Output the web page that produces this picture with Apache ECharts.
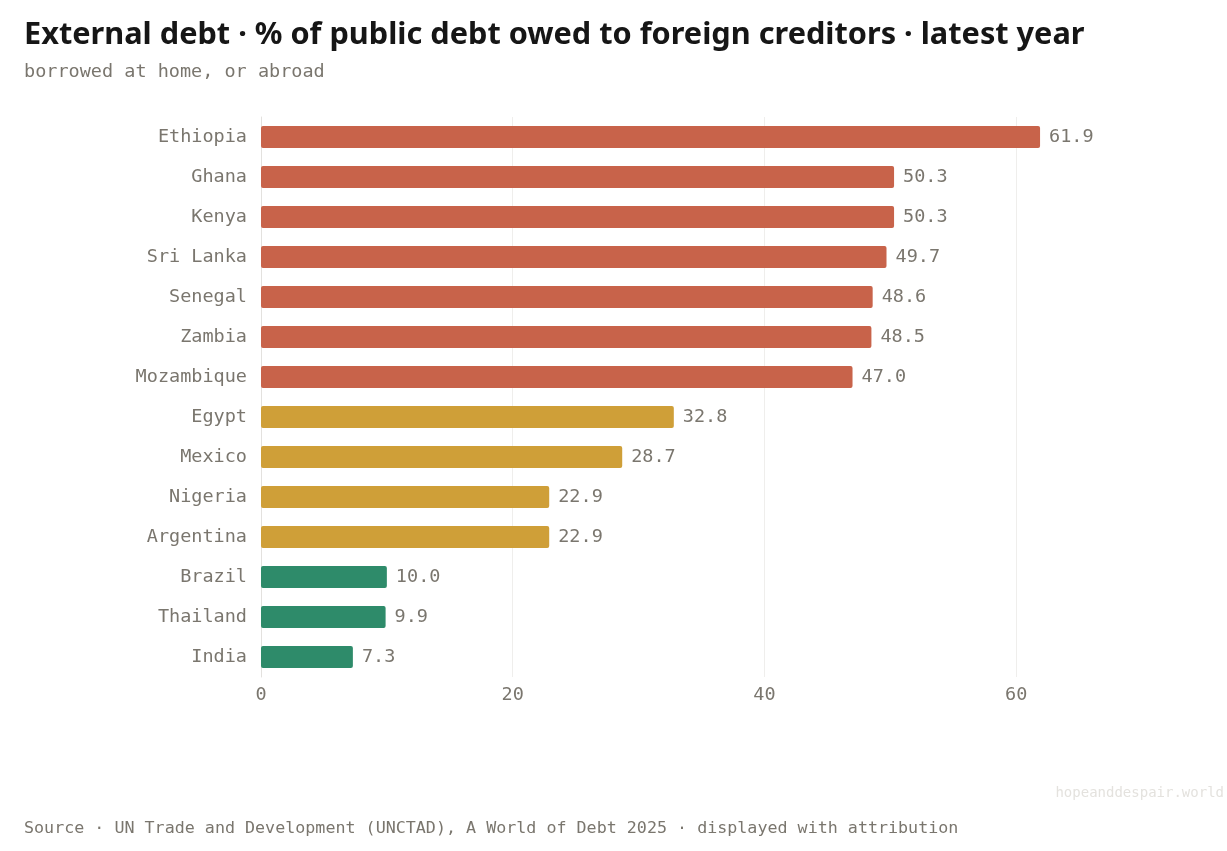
<!DOCTYPE html>
<html>
<head>
<meta charset="utf-8">
<script src="https://cdn.jsdelivr.net/npm/echarts@6/dist/echarts.min.js"></script>
<style>
  html, body { margin: 0; padding: 0; background: #fff; }
  #main { width: 1227px; height: 851px; }
</style>
</head>
<body>
<div id="main"></div>
<script>
// 国家（从上到下）
var countries = ['Ethiopia', 'Ghana', 'Kenya', 'Sri Lanka', 'Senegal', 'Zambia', 'Mozambique',
  'Egypt', 'Mexico', 'Nigeria', 'Argentina', 'Brazil', 'Thailand', 'India'];
// 外债占公共债务百分比
var shares = [61.9, 50.3, 50.3, 49.7, 48.6, 48.5, 47.0, 32.8, 28.7, 22.9, 22.9, 10.0, 9.9, 7.3];
// 分组：high / mid / low
var groups = ['high', 'high', 'high', 'high', 'high', 'high', 'high',
  'mid', 'mid', 'mid', 'mid', 'low', 'low', 'low'];
var xTicks = [0, 20, 40, 60];

var groupColors = { high: '#C8634A', mid: '#CF9F38', low: '#2E8B6A' };
var mono = '"DejaVu Sans Mono", monospace';
var grey = '#7a766e';

var chart = echarts.init(document.getElementById('main'));

var option = {
  backgroundColor: '#fff',
  animation: false,
  title: [{
    text: 'External debt · % of public debt owed to foreign creditors · latest year',
    left: 19, top: 15,
    textStyle: { fontFamily: '"Noto Sans", sans-serif', fontSize: 30.7, fontWeight: 'bold', color: '#161616' }
  }, {
    text: 'borrowed at home, or abroad',
    left: 19, top: 58,
    textStyle: { fontFamily: mono, fontSize: 18.5, fontWeight: 'normal', color: grey }
  }, {
    text: 'Source · UN Trade and Development (UNCTAD), A World of Debt 2025 · displayed with attribution',
    left: 19, top: 815,
    textStyle: { fontFamily: mono, fontSize: 16.7, fontWeight: 'normal', color: grey }
  }, {
    text: 'hopeanddespair.world',
    right: -2, top: 781,
    textStyle: { fontFamily: mono, fontSize: 14, fontWeight: 'normal', color: '#e4e2de' }
  }],
  grid: { left: 261, right: 85, top: 117, bottom: 174, containLabel: false },
  xAxis: {
    type: 'value',
    min: 0,
    max: 70,
    interval: 20,
    axisLine: { show: false },
    axisTick: { show: false },
    axisLabel: {
      color: grey, fontFamily: mono, fontSize: 18.5, margin: 9,
      showMaxLabel: false,
      formatter: function (v) { return xTicks.indexOf(v) >= 0 ? String(v) : ''; }
    },
    splitLine: { show: true, showMaxLine: false, lineStyle: { color: '#efeeec', width: 1 } }
  },
  yAxis: {
    type: 'category',
    data: countries,
    inverse: true,
    axisLine: { show: true, lineStyle: { color: '#e3e1de', width: 1 } },
    axisTick: { show: false },
    axisLabel: { color: grey, fontFamily: mono, fontSize: 18.5, margin: 14 }
  },
  series: [{
    type: 'bar',
    data: shares.map(function (v, i) {
      return { value: v, itemStyle: { color: groupColors[groups[i]] } };
    }),
    barCategoryGap: '45%',
    itemStyle: { borderRadius: 2 },
    label: {
      show: true,
      position: 'right',
      distance: 9,
      color: grey,
      fontFamily: mono,
      fontSize: 18.5,
      formatter: function (p) { return p.value.toFixed(1); }
    }
  }]
};

chart.setOption(option);
</script>
</body>
</html>
